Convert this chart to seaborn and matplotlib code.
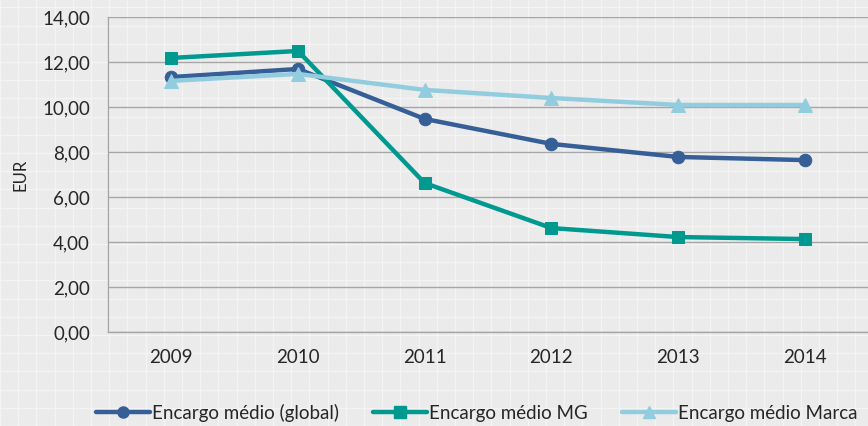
import matplotlib
matplotlib.use("Agg")
import matplotlib.pyplot as plt
import seaborn as sns
import pandas as pd
import numpy as np
from matplotlib.lines import Line2D

years = ["2009", "2010", "2011", "2012", "2013", "2014"]
global_vals = [11.33, 11.69, 9.47, 8.36, 7.78, 7.64]
mg_vals = [12.18, 12.49, 6.62, 4.62, 4.22, 4.13]
marca_vals = [11.16, 11.47, 10.76, 10.40, 10.09, 10.09]
series_names = ["Encargo médio (global)", "Encargo médio MG", "Encargo médio Marca"]
colors = ["#365f97", "#00998f", "#92cddf"]
markers = ["o", "s", "^"]
y_ticks = [0, 2, 4, 6, 8, 10, 12, 14]
y_ticklabels = ["0,00", "2,00", "4,00", "6,00", "8,00", "10,00", "12,00", "14,00"]

df = pd.DataFrame({
    "year": years * 3,
    "value": global_vals + mg_vals + marca_vals,
    "series": [series_names[0]] * 6 + [series_names[1]] * 6 + [series_names[2]] * 6,
})

sns.set_theme(style="white")
plt.rcParams["font.family"] = ["Lato", "DejaVu Sans"]

bg = "#ebebeb"
fig = plt.figure(figsize=(8.68, 4.26), dpi=100, facecolor=bg)
# subtle graph-paper texture
for x in np.arange(0, 868, 18.2):
    fig.add_artist(Line2D([x / 868, x / 868], [0, 1], color="#f4f4f4", lw=1.0, zorder=-10))
for y in np.arange(0, 426, 18.2):
    fig.add_artist(Line2D([0, 1], [y / 426, y / 426], color="#f4f4f4", lw=1.0, zorder=-10))

ax = fig.add_axes([0.1244, 0.2207, 0.8756, 0.7394])
ax.set_facecolor("none")

x_idx = {y: i for i, y in enumerate(years)}
df["x"] = df["year"].map(x_idx)

for name, c, m in zip(series_names, colors, markers):
    sub = df[df["series"] == name]
    sns.lineplot(data=sub, x="x", y="value", ax=ax, color=c, marker=m,
                 markersize=9 if m != "^" else 10, markeredgecolor=c,
                 linewidth=3.2, label=name, zorder=3)

ax.set_xlim(-0.5, 5.5)
ax.set_ylim(0, 14)
ax.set_xticks(range(len(years)))
ax.set_xticklabels(years)
ax.set_yticks(y_ticks)
ax.set_yticklabels(y_ticklabels)
ax.yaxis.grid(True, color="#a6a6a6", lw=1.0)
ax.set_axisbelow(True)
for s in ["top", "right"]:
    ax.spines[s].set_visible(False)
for s in ["left", "bottom"]:
    ax.spines[s].set_color("#a6a6a6")
    ax.spines[s].set_linewidth(1.0)
ax.tick_params(axis="both", length=0, labelsize=13.5, colors="#262626")
ax.tick_params(axis="x", pad=12)
ax.tick_params(axis="y", pad=13)
ax.set_xlabel("")
ax.set_ylabel("EUR", fontsize=12, color="#262626", labelpad=10)

handles = [Line2D([0], [0], color=c, marker=m, markersize=8, lw=3.2) for c, m in zip(colors, markers)]
ax.legend(handles, series_names, loc="lower center", bbox_to_anchor=(0.485, -0.338),
          ncol=3, frameon=False, fontsize=13.5, handlelength=2.9, columnspacing=1.8,
          handletextpad=0.1, labelcolor="#262626")

fig.savefig("out.png", dpi=100, facecolor=bg)
